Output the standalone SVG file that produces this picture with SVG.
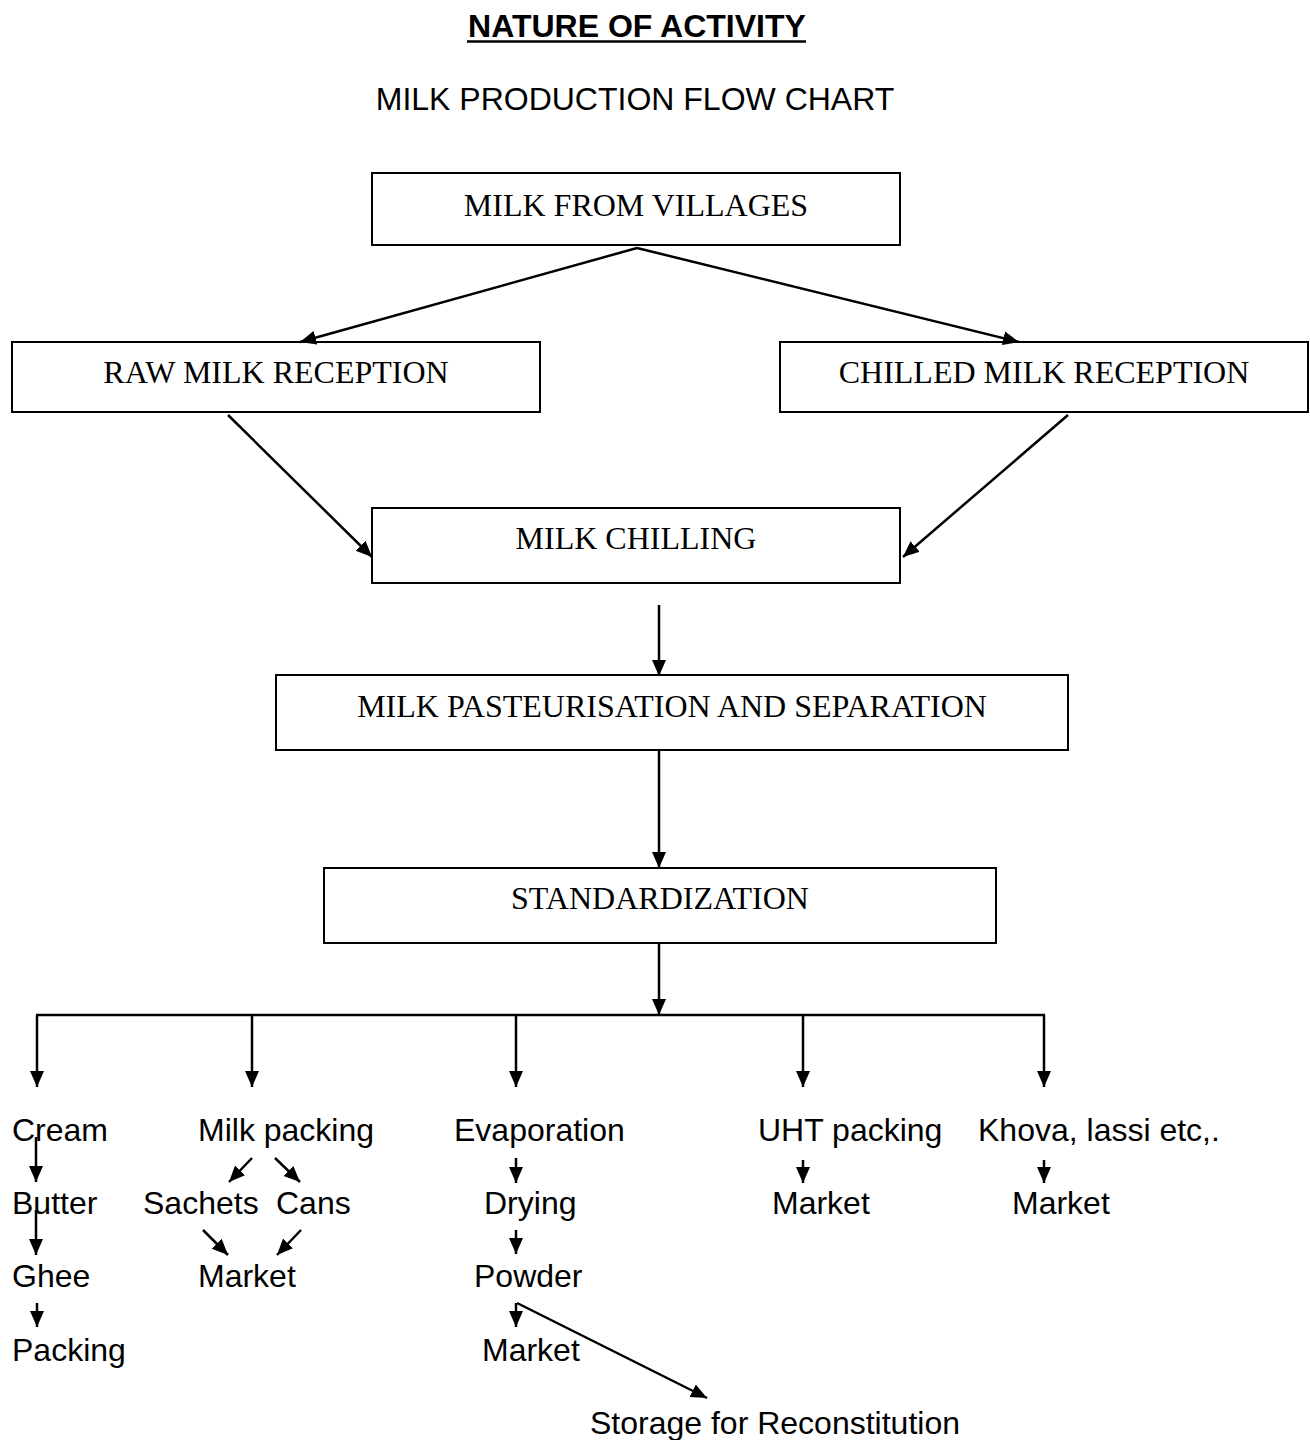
<svg xmlns="http://www.w3.org/2000/svg" width="1310" height="1440" viewBox="0 0 1310 1440">
<defs>
<style>
.box{fill:#fff;stroke:#000;stroke-width:2}
.bt{font-family:"Liberation Serif","Times New Roman",serif;font-size:32px;text-anchor:middle;fill:#000}
.lt{font-family:"Liberation Sans",Arial,sans-serif;font-size:32px;fill:#000}
.c{stroke:#000;stroke-width:2.5;fill:none;marker-end:url(#ah)}
.p{stroke:#000;stroke-width:2.5;fill:none}
</style>
<marker id="ah" markerUnits="userSpaceOnUse" markerWidth="18" markerHeight="16" viewBox="0 -8 18 16" refX="16" refY="0" orient="auto">
<path d="M0,-7 L16,0 L0,7 z" fill="#000"/>
</marker>
</defs>
<rect width="1310" height="1440" fill="#fff"/>
<g id="title">
<text x="637" y="37" class="lt" font-weight="bold" text-anchor="middle">NATURE OF ACTIVITY</text>
<line x1="467" y1="41.5" x2="806" y2="41.5" stroke="#000" stroke-width="2.5"/>
<text x="635" y="110" class="lt" text-anchor="middle">MILK PRODUCTION FLOW CHART</text>
</g>
<g id="n1"><rect class="box" x="372" y="173" width="528" height="72"/><text class="bt" x="636" y="216">MILK FROM VILLAGES</text></g>
<g id="n2"><rect class="box" x="12" y="342" width="528" height="70"/><text class="bt" x="276" y="383">RAW MILK RECEPTION</text></g>
<g id="n3"><rect class="box" x="780" y="342" width="528" height="70"/><text class="bt" x="1044" y="383">CHILLED MILK RECEPTION</text></g>
<g id="n4"><rect class="box" x="372" y="508" width="528" height="75"/><text class="bt" x="636" y="549">MILK CHILLING</text></g>
<g id="n5"><rect class="box" x="276" y="675" width="792" height="75"/><text class="bt" x="672" y="717">MILK PASTEURISATION AND SEPARATION</text></g>
<g id="n6"><rect class="box" x="324" y="868" width="672" height="75"/><text class="bt" x="660" y="909">STANDARDIZATION</text></g>
<g id="labels">
<text class="lt" x="12" y="1141">Cream</text>
<text class="lt" x="198" y="1141">Milk packing</text>
<text class="lt" x="454" y="1141">Evaporation</text>
<text class="lt" x="758" y="1141">UHT packing</text>
<text class="lt" x="978" y="1141">Khova, lassi etc,.</text>
<text class="lt" x="12" y="1214">Butter</text>
<text class="lt" x="143" y="1214">Sachets</text>
<text class="lt" x="276" y="1214">Cans</text>
<text class="lt" x="484" y="1214">Drying</text>
<text class="lt" x="772" y="1214">Market</text>
<text class="lt" x="1012" y="1214">Market</text>
<text class="lt" x="12" y="1287">Ghee</text>
<text class="lt" x="198" y="1287">Market</text>
<text class="lt" x="474" y="1287">Powder</text>
<text class="lt" x="12" y="1361">Packing</text>
<text class="lt" x="482" y="1361">Market</text>
<text class="lt" x="590" y="1434">Storage for Reconstitution</text>
</g>
<g id="connectors">
<line class="c" x1="637" y1="248" x2="300" y2="342"/>
<line class="c" x1="637" y1="248" x2="1019" y2="342"/>
<line class="c" x1="228" y1="415" x2="372" y2="557"/>
<line class="c" x1="1068" y1="415" x2="903" y2="557"/>
<line class="c" x1="659" y1="605" x2="659" y2="676"/>
<line class="c" x1="659" y1="750" x2="659" y2="868"/>
<line class="c" x1="659" y1="943" x2="659" y2="1015"/>
<line class="p" x1="36" y1="1015" x2="1045" y2="1015"/>
<line class="c" x1="37" y1="1015" x2="37" y2="1087"/>
<line class="c" x1="252" y1="1015" x2="252" y2="1087"/>
<line class="c" x1="516" y1="1015" x2="516" y2="1087"/>
<line class="c" x1="803" y1="1015" x2="803" y2="1087"/>
<line class="c" x1="1044" y1="1015" x2="1044" y2="1087"/>
<line class="c" x1="36" y1="1137" x2="36" y2="1182"/>
<line class="c" x1="36" y1="1210" x2="36" y2="1255"/>
<line class="c" x1="37" y1="1303" x2="37" y2="1327"/>
<line class="c" x1="252" y1="1158" x2="229" y2="1182"/>
<line class="c" x1="275" y1="1158" x2="300" y2="1182"/>
<line class="c" x1="203" y1="1230" x2="228" y2="1255"/>
<line class="c" x1="301" y1="1230" x2="277" y2="1255"/>
<line class="c" x1="516" y1="1158" x2="516" y2="1183"/>
<line class="c" x1="516" y1="1230" x2="516" y2="1254"/>
<line class="c" x1="516" y1="1303" x2="516" y2="1327"/>
<line class="c" x1="517" y1="1303" x2="707" y2="1398"/>
<line class="c" x1="803" y1="1160" x2="803" y2="1183"/>
<line class="c" x1="1044" y1="1160" x2="1044" y2="1183"/>
</g>
</svg>
